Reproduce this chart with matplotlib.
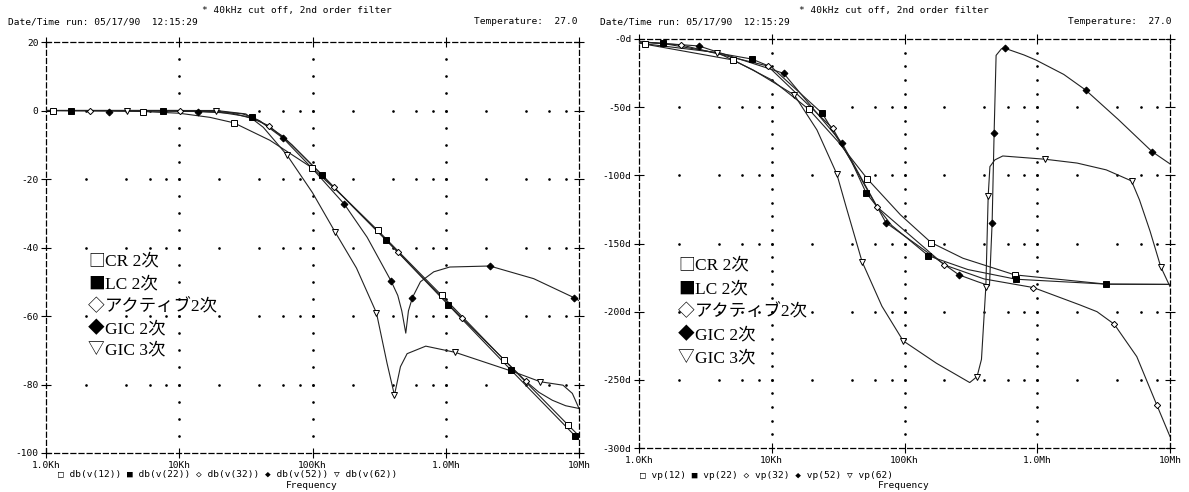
import numpy as np
import matplotlib.pyplot as plt
from matplotlib.ticker import FixedLocator, NullLocator, FixedFormatter

plt.rcParams['font.family'] = ['DejaVu Sans Mono', 'DejaVu Sans']

W, H = 1189, 492

# ---------------- magnitude (dB), frequency in kHz ----------------
cr_db_f = [1, 3, 5.37, 10, 17, 25.7, 47.9, 98.9, 173.8, 309, 602.6, 933.3, 2754, 8318, 10000]
cr_db = [0, -0.1, -0.3, -0.8, -2.0, -3.6, -8.7, -16.7, -25.5, -35, -46.5, -54, -72.9, -91.9, -95]
lc_db_f = [1, 10, 20, 30, 35.1, 40, 60.3, 117.5, 200, 354.8, 1047, 3090, 9333, 10000]
lc_db = [0, 0, -0.3, -1.0, -1.9, -3.0, -7.6, -18.7, -28, -37.7, -56.8, -75.8, -95, -96]
ac_db_f = [1, 10.2, 25, 35, 46.8, 70, 144.5, 436.5, 1318, 3981, 5012, 6310, 7943, 10000]
ac_db = [0, 0, -0.8, -2.3, -4.4, -10, -22.4, -41.3, -60.5, -79, -82.3, -84.6, -86.2, -87]
g2_db_f = [1, 13.8, 20, 31.6, 40, 60.3, 100, 173.8, 257, 389, 436.5, 467.7, 501.2, 524.8,
           562.3, 645.7, 812.8, 1072, 2138, 4571, 9120, 10000]
g2_db = [0, -0.3, -0.5, -1.7, -3.0, -8.1, -17, -27.4, -37, -49.8, -54, -58.5, -65, -58.5,
         -54.6, -50, -47.1, -45.7, -45.4, -49.1, -54.6, -55.5]
g3_db_f = [1, 19, 31.6, 42.7, 64.6, 100, 147.9, 213.8, 302, 363.1, 412, 457.1, 512.9,
           707.9, 1175, 3236, 5129, 7586, 8913, 10000]
g3_db = [0, 0, -1.0, -4.9, -13.1, -24, -35.5, -46, -59.1, -73.9, -83.1, -74.8, -71,
         -68.8, -70.6, -76.3, -79.2, -80.2, -82.6, -87]

# marker positions (dB)
cr_db_mf = [1.135, 5.37, 25.7, 98.9, 309, 933.3, 2754, 8318]
cr_db_m = [0, -0.3, -3.6, -16.7, -35, -54, -72.9, -91.9]
lc_db_mf = [1.55, 7.52, 35.1, 117.5, 354.8, 1047, 3090, 9333]
lc_db_m = [0, 0, -1.9, -18.7, -37.7, -56.8, -75.8, -95]
ac_db_mf = [2.14, 10.2, 46.8, 144.5, 436.5, 1318, 3981]
ac_db_m = [0, 0, -4.4, -22.4, -41.3, -60.5, -79]
g2_db_mf = [2.95, 13.8, 60.3, 173.8, 389, 562.3, 2138, 9120]
g2_db_m = [-0.3, -0.3, -8.1, -27.4, -49.8, -54.6, -45.4, -54.6]
g3_db_mf = [4.07, 19, 64.6, 147.9, 302, 412, 1175, 5129]
g3_db_m = [0, 0, -13.1, -35.5, -59.1, -83.1, -70.6, -79.2]

# ---------------- phase (deg), frequency in kHz ----------------
cr_ph_f = [1, 5.13, 10, 19, 31.6, 52.5, 93.3, 158.5, 275.4, 676, 3311, 10000]
cr_ph = [-3, -15.4, -30, -51.5, -75.3, -102.6, -129, -149.3, -160.8, -173, -179.8, -180]
lc_ph_f = [1, 1.51, 7.08, 10, 24, 40, 51.3, 80, 151.4, 300, 691.8, 3311, 10000]
lc_ph = [-2, -3.2, -14.7, -20.7, -54.5, -90, -112.7, -136.7, -159, -169.1, -176.2, -179.8, -180]
ac_ph_f = [1, 2.09, 9.33, 28.8, 61.7, 199.5, 398, 933.3, 2089, 2818, 3802, 5623, 7943, 10000]
ac_ph = [-2.2, -4.4, -19.8, -65.5, -122.9, -165.7, -176, -182.3, -195, -200, -209.2, -233, -268.3, -291.6]
g2_ph_f = [1, 2.82, 12.3, 33.9, 72.4, 257, 354.8, 436.5, 457.1, 473.2, 489.8, 537, 570.2,
           794.3, 977, 1585, 2312, 4074, 7328, 10000]
g2_ph = [-2, -5.1, -25.2, -76.5, -134.7, -173, -178, -181, -135, -69, -12, -7.2, -6.8,
         -11.7, -15.4, -26, -37.4, -59, -82.6, -91.6]
g3_ph_f = [1, 3.89, 7.24, 14.8, 21.9, 30.9, 36.3, 47.9, 67.6, 97.7, 173.8, 310, 352, 380,
           410, 427, 440, 479, 550, 1148, 1995, 3311, 5129, 5888, 7079, 8511, 10000]
g3_ph = [-3, -10, -22.7, -41.1, -66.7, -99, -123, -163.3, -196, -221.4, -237.8, -252, -247.6, -235,
         -181.6, -115, -93.6, -88.7, -85.8, -88.2, -91, -96, -104.1, -118, -141, -167, -181.6]

# marker positions (deg)
cr_ph_mf = [1.11, 5.13, 19, 52.5, 158.5, 676]
cr_ph_m = [-3.7, -15.4, -51.5, -102.6, -149.3, -173]
lc_ph_mf = [1.51, 7.08, 24, 51.3, 151.4, 691.8, 3311]
lc_ph_m = [-3.2, -14.7, -54.5, -112.7, -159, -176.2, -179.8]
ac_ph_mf = [2.09, 9.33, 28.8, 61.7, 199.5, 933.3, 3802, 7943]
ac_ph_m = [-4.4, -19.8, -65.5, -122.9, -165.7, -182.3, -209.2, -268.3]
g2_ph_mf = [2.82, 12.3, 33.9, 72.4, 257, 457.1, 473.2, 570.2, 2312, 7328]
g2_ph_m = [-5.1, -25.2, -76.5, -134.7, -173, -135, -69, -6.8, -37.4, -82.6]
g3_ph_mf = [3.89, 14.8, 30.9, 47.9, 97.7, 352, 410, 427, 1148, 5129, 8511]
g3_ph_m = [-10, -41.1, -99, -163.3, -221.4, -247.6, -181.6, -115, -88.2, -104.1, -167]

x_ticks = [1e3, 1e4, 1e5, 1e6, 1e7]
x_labels = ['1.0Kh', '10Kh', '100Kh', '1.0Mh', '10Mh']
db_ticks = [20, 0, -20, -40, -60, -80, -100]
ph_ticks = [0, -50, -100, -150, -200, -250, -300]
ph_labels = ['-0d', '-50d', '-100d', '-150d', '-200d', '-250d', '-300d']
names = ['CR 2次', 'LC 2次', 'アクティブ2次', 'GIC 2次', 'GIC 3次']
syms = ['□', '■', '◇', '◆', '▽']

styles = [dict(marker='s', mfc='white', ms=4.5), dict(marker='s', mfc='black', ms=4.2),
          dict(marker='D', mfc='white', ms=3.2), dict(marker='D', mfc='black', ms=3.5),
          dict(marker='v', mfc='white', ms=5)]

fig = plt.figure(figsize=(W / 100, H / 100), dpi=100)
ax1 = fig.add_axes([46 / W, 1 - 453 / H, 533 / W, 411 / H])
ax2 = fig.add_axes([639 / W, 1 - 448 / H, 531 / W, 409 / H])


def setup(ax, yticks, ylabels, ystep):
    ax.set_xscale('log')
    ax.set_xlim(1e3, 1e7)
    ax.set_ylim(min(yticks), max(yticks))
    ax.xaxis.set_major_locator(FixedLocator(x_ticks))
    ax.xaxis.set_major_formatter(FixedFormatter(x_labels))
    ax.xaxis.set_minor_locator(NullLocator())
    ax.set_yticks(yticks)
    ax.set_yticklabels(ylabels)
    ax.tick_params(direction='inout', length=7, width=0.8, top=True, right=True,
                   labelsize=6.8, pad=2)
    for s in ax.spines.values():
        s.set_linestyle((0, (4, 2.5)))
        s.set_linewidth(0.9)
    # dotted PSpice-style grid
    gx = [d * m for d in x_ticks[:-1] for m in [1, 2, 4, 6, 8]][1:]
    for y in yticks[1:-1]:
        ax.plot(gx, [y] * len(gx), ls='none', marker='.', ms=1.8, color='black', zorder=1)
    gy = np.arange(min(yticks), max(yticks), ystep)[1:]
    for x in x_ticks[1:-1]:
        ax.plot([x] * len(gy), gy, ls='none', marker='.', ms=1.8, color='black', zorder=1)


setup(ax1, db_ticks, [str(v) for v in db_ticks], 5)
setup(ax2, ph_ticks, ph_labels, 10)

db_lines = [(cr_db_f, cr_db), (lc_db_f, lc_db), (ac_db_f, ac_db), (g2_db_f, g2_db), (g3_db_f, g3_db)]
db_marks = [(cr_db_mf, cr_db_m), (lc_db_mf, lc_db_m), (ac_db_mf, ac_db_m), (g2_db_mf, g2_db_m), (g3_db_mf, g3_db_m)]
ph_lines = [(cr_ph_f, cr_ph), (lc_ph_f, lc_ph), (ac_ph_f, ac_ph), (g2_ph_f, g2_ph), (g3_ph_f, g3_ph)]
ph_marks = [(cr_ph_mf, cr_ph_m), (lc_ph_mf, lc_ph_m), (ac_ph_mf, ac_ph_m), (g2_ph_mf, g2_ph_m), (g3_ph_mf, g3_ph_m)]

for ax, lines, marks in [(ax1, db_lines, db_marks), (ax2, ph_lines, ph_marks)]:
    for (lf, lv), (mf, mv), st in zip(lines, marks, styles):
        ax.plot(np.array(lf) * 1e3, lv, color='#222222', lw=0.8, zorder=3)
        ax.plot(np.array(mf) * 1e3, mv, ls='none', mec='black', mew=0.7, zorder=4, **st)

# in-plot legends
for x0, ys in [(88, [261, 284, 307, 329, 350]), (678, [265, 289, 312, 335, 358])]:
    for s, n, y in zip(syms, names, ys):
        fig.text(x0 / W, 1 - y / H, s, fontsize=12, family=['Noto Sans CJK JP'],
                 va='center', ha='left')
        fig.text((x0 + 17) / W, 1 - y / H, n, fontsize=12.5,
                 family=['Liberation Serif', 'Noto Sans CJK JP'], va='center', ha='left')

# PSpice header / footer
hdr = dict(fontsize=6.8, va='center')
for xl, xc, xr, tag, lbl in [(8, 297, 578, 'db', None), (600, 894, 1172, 'vp', None)]:
    fig.text(xc / W, 1 - 11 / H, '* 40kHz cut off, 2nd order filter', ha='center', **hdr)
    fig.text(xl / W, 1 - 22 / H, 'Date/Time run: 05/17/90  12:15:29', ha='left', **hdr)
    fig.text(xr / W, 1 - 22 / H, 'Temperature:  27.0', ha='right', **hdr)

fig.text(58 / W, 1 - 475 / H,
         '□ db(v(12)) ■ db(v(22)) ◇ db(v(32)) ◆ db(v(52)) ▽ db(v(62))', ha='left', **hdr)
fig.text(640 / W, 1 - 475 / H,
         '□ vp(12) ■ vp(22) ◇ vp(32) ◆ vp(52) ▽ vp(62)', ha='left', **hdr)
fig.text(312 / W, 1 - 486 / H, 'Frequency', ha='center', **hdr)
fig.text(904 / W, 1 - 486 / H, 'Frequency', ha='center', **hdr)

fig.savefig('out.png', dpi=100, facecolor='white')
